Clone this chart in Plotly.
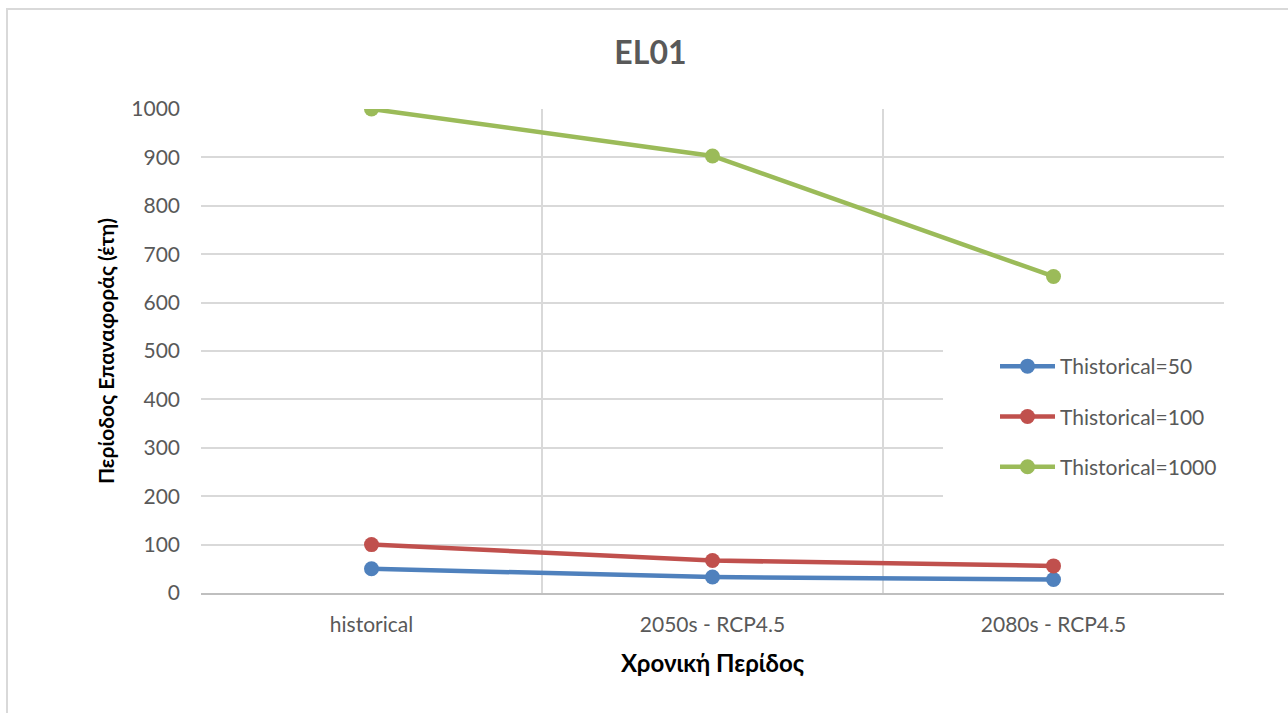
import plotly.graph_objects as go

# Return-period data per time period
periods = ["historical", "2050s - RCP4.5", "2080s - RCP4.5"]
t50 = [50, 33, 28]
t100 = [100, 67, 56]
t1000 = [1000, 903, 654]

series_names = ["Thistorical=50", "Thistorical=100", "Thistorical=1000"]
series_values = [t50, t100, t1000]
series_colors = ["#4f81bd", "#c0504d", "#9bbb59"]

y_ticks = list(range(0, 1001, 100))

FONT = "Lato"
W, H = 1288, 713
ML, MR, MT, MB = 201, 64, 109, 120
PW, PH = W - ML - MR, H - MT - MB


def px_x(p):
    return (p - ML) / PW


def px_y(p):
    return (MT + PH - p) / PH


fig = go.Figure()
for name, vals, col in zip(series_names, series_values, series_colors):
    fig.add_trace(go.Scatter(
        x=periods, y=vals, name=name, mode="lines+markers",
        legendgroup=name,
        line=dict(color=col, width=4.5),
        marker=dict(color=col, size=15),
    ))

# light frame around the whole chart
fig.add_shape(
    type="rect", xref="paper", yref="paper",
    x0=px_x(7), x1=px_x(W + 5), y0=px_y(H + 5), y1=px_y(9),
    line=dict(color="#d9d9d9", width=2), layer="below",
)
# white panel behind the legend
fig.add_shape(
    type="rect", xref="paper", yref="paper",
    x0=px_x(943), x1=px_x(1232), y0=px_y(497), y1=px_y(342),
    line=dict(width=0), fillcolor="white", layer="above",
)

fig.update_layout(
    width=W, height=H,
    margin=dict(l=ML, r=MR, t=MT, b=MB),
    paper_bgcolor="white", plot_bgcolor="white",
    title=dict(text="<b>EL01</b>", x=0.505, xanchor="center", y=1 - 53 / H, yanchor="middle",
               font=dict(family=FONT, size=32, color="#595959")),
    font=dict(family=FONT, color="#595959"),
    showlegend=True,
    legend=dict(
        x=px_x(995), y=px_y(346), xanchor="left", yanchor="top",
        bgcolor="rgba(0,0,0,0)", borderwidth=0,
        font=dict(family=FONT, size=21, color="#595959"),
        itemwidth=55, tracegroupgap=20,
    ),
    xaxis=dict(
        type="category", range=[-0.5, 2.5],
        tickson="boundaries", ticks="", showgrid=True, gridcolor="#d9d9d9", gridwidth=1.5,
        showline=True, linecolor="#bfbfbf", linewidth=2,
        tickfont=dict(family=FONT, size=21, color="#595959"),
        ticklabelstandoff=12,
        title=dict(text="<b>Χρονική Περίδος</b>", standoff=20,
                   font=dict(family=FONT, size=24, color="#000000")),
    ),
    yaxis=dict(
        range=[0, 1000], tickvals=y_ticks, ticks="",
        showgrid=True, gridcolor="#d9d9d9", gridwidth=1.5,
        zeroline=False, showline=False,
        tickfont=dict(family=FONT, size=21, color="#595959"),
        ticklabelstandoff=20,
        title=dict(text="<b>Περίοδος Επαναφοράς (έτη)</b>", standoff=10,
                   font=dict(family=FONT, size=21, color="#000000")),
    ),
)

fig.write_html("out.html")
